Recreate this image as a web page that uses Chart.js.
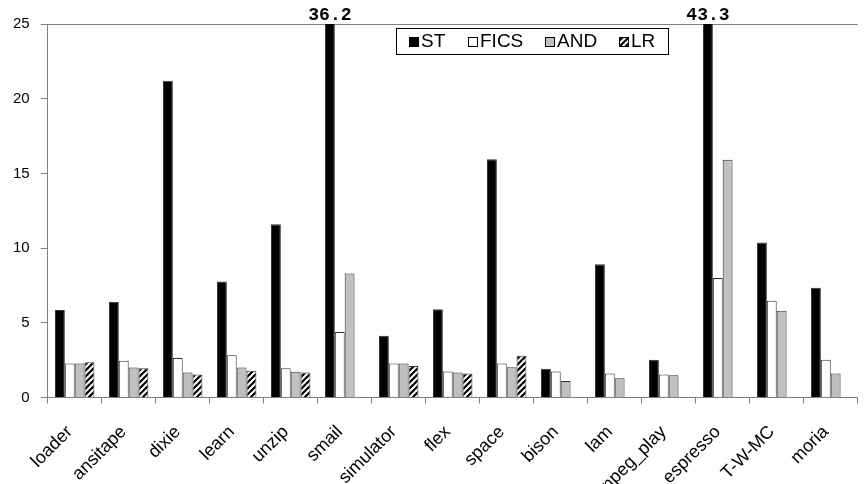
<!DOCTYPE html>
<html>
<head>
<meta charset="utf-8">
<script src="https://cdn.jsdelivr.net/npm/chart.js@4"></script>
<style>
  body { margin: 0; background: #fff; }
  #wrap { width: 864px; height: 484px; position: relative; }
</style>
</head>
<body>
<div id="wrap"><canvas id="c"></canvas></div>
<script>
const categories = ['loader', 'ansitape', 'dixie', 'learn', 'unzip', 'smail', 'simulator', 'flex',
  'space', 'bison', 'lam', 'mpeg_play', 'espresso', 'T-W-MC', 'moria'];
const seriesNames = ['ST', 'FICS', 'AND', 'LR'];
const stValues = [5.85, 6.41, 21.2, 7.77, 11.59, 36.2, 4.13, 5.91, 15.94, 1.92, 8.92, 2.53, 43.3, 10.37, 7.34];
const ficsValues = [2.28, 2.46, 2.64, 2.82, 1.96, 4.38, 2.28, 1.74, 2.28, 1.74, 1.6, 1.54, 7.99, 6.48, 2.53];
const andValues = [2.28, 2.01, 1.67, 2.01, 1.72, 8.29, 2.28, 1.67, 2.03, 1.1, 1.29, 1.49, 15.92, 5.81, 1.6];
const lrValues = [2.35, 1.96, 1.54, 1.78, 1.67, null, 2.1, 1.6, 2.8, null, null, null, null, null, null];
const yMax = 25;
const yStep = 5;

const ctx = document.getElementById('c');

function hatchPattern() {
  const c = document.createElement('canvas');
  c.width = 6; c.height = 6;
  const g = c.getContext('2d');
  g.fillStyle = '#fff';
  g.fillRect(0, 0, 6, 6);
  g.strokeStyle = '#000';
  g.lineWidth = 2.2;
  g.beginPath();
  g.moveTo(-1, 7); g.lineTo(7, -1);
  g.moveTo(-4, 4); g.lineTo(4, -4);
  g.moveTo(2, 10); g.lineTo(10, 2);
  g.stroke();
  return ctx.getContext('2d').createPattern(c, 'repeat');
}
const hatch = hatchPattern();
const fills = ['#000000', '#ffffff', '#c0c0c0', hatch];

// labels for bars cut off at the top, plus the boxed legend inside the plot
const extras = {
  id: 'extras',
  afterDatasetsDraw(chart) {
    const g = chart.ctx;
    const area = chart.chartArea;
    g.save();
    chart.data.datasets.forEach((ds, i) => {
      chart.getDatasetMeta(i).data.forEach((bar, j) => {
        const v = ds.data[j];
        if (v != null && v > yMax) {
          g.font = 'bold 18px "Liberation Mono", "Courier New", monospace';
          g.fillStyle = '#000';
          g.textAlign = 'center';
          g.textBaseline = 'alphabetic';
          g.fillText(v.toFixed(1), bar.x, area.top - 4);
        }
      });
    });

    const bx = 396, by = 28, bw = 272, bh = 26;
    g.fillStyle = '#fff';
    g.fillRect(bx, by, bw, bh);
    g.strokeStyle = '#000';
    g.lineWidth = 1;
    g.strokeRect(bx + 0.5, by + 0.5, bw, bh);
    const itemX = [409, 468, 545, 619];
    g.font = '19px "Liberation Sans", Arial, sans-serif';
    g.textAlign = 'left';
    g.textBaseline = 'middle';
    seriesNames.forEach((name, i) => {
      const sx = itemX[i], sy = by + 9;
      g.fillStyle = fills[i];
      g.fillRect(sx, sy, 10, 10);
      g.strokeStyle = '#000';
      g.strokeRect(sx + 0.5, sy + 0.5, 9, 9);
      g.fillStyle = '#000';
      g.fillText(name, sx + 12, by + bh / 2 + 1);
    });
    g.restore();
  }
};

new Chart(ctx, {
  type: 'bar',
  data: {
    labels: categories,
    datasets: [stValues, ficsValues, andValues, lrValues].map((vals, i) => ({
      label: seriesNames[i],
      data: vals,
      backgroundColor: fills[i],
      borderColor: '#333333',
      borderWidth: 1,
      borderSkipped: 'bottom',
      clip: 0,
      categoryPercentage: 0.73,
      barPercentage: 1.0
    }))
  },
  options: {
    responsive: true,
    maintainAspectRatio: false,
    animation: false,
    layout: { padding: { left: 2, top: 24, right: -4, bottom: -33 } },
    plugins: {
      legend: { display: false },
      tooltip: { enabled: false }
    },
    scales: {
      x: {
        border: { color: '#808080', width: 1 },
        grid: { offset: true, drawOnChartArea: false, color: '#808080', tickLength: 6 },
        ticks: {
          color: '#000',
          font: { family: '"Liberation Sans", Arial, sans-serif', size: 18 },
          maxRotation: 45,
          minRotation: 45,
          padding: 18,
          labelOffset: -5,
          autoSkip: false
        }
      },
      y: {
        min: 0,
        max: yMax,
        border: { color: '#808080', width: 1 },
        grid: {
          color: c => (c.tick && c.tick.value === yMax ? '#808080' : 'rgba(0,0,0,0)'),
          tickColor: '#808080',
          tickLength: 7
        },
        ticks: {
          stepSize: yStep,
          color: '#000',
          padding: 11,
          font: { family: '"Liberation Sans", Arial, sans-serif', size: 15 }
        }
      }
    }
  },
  plugins: [extras]
});
</script>
</body>
</html>
